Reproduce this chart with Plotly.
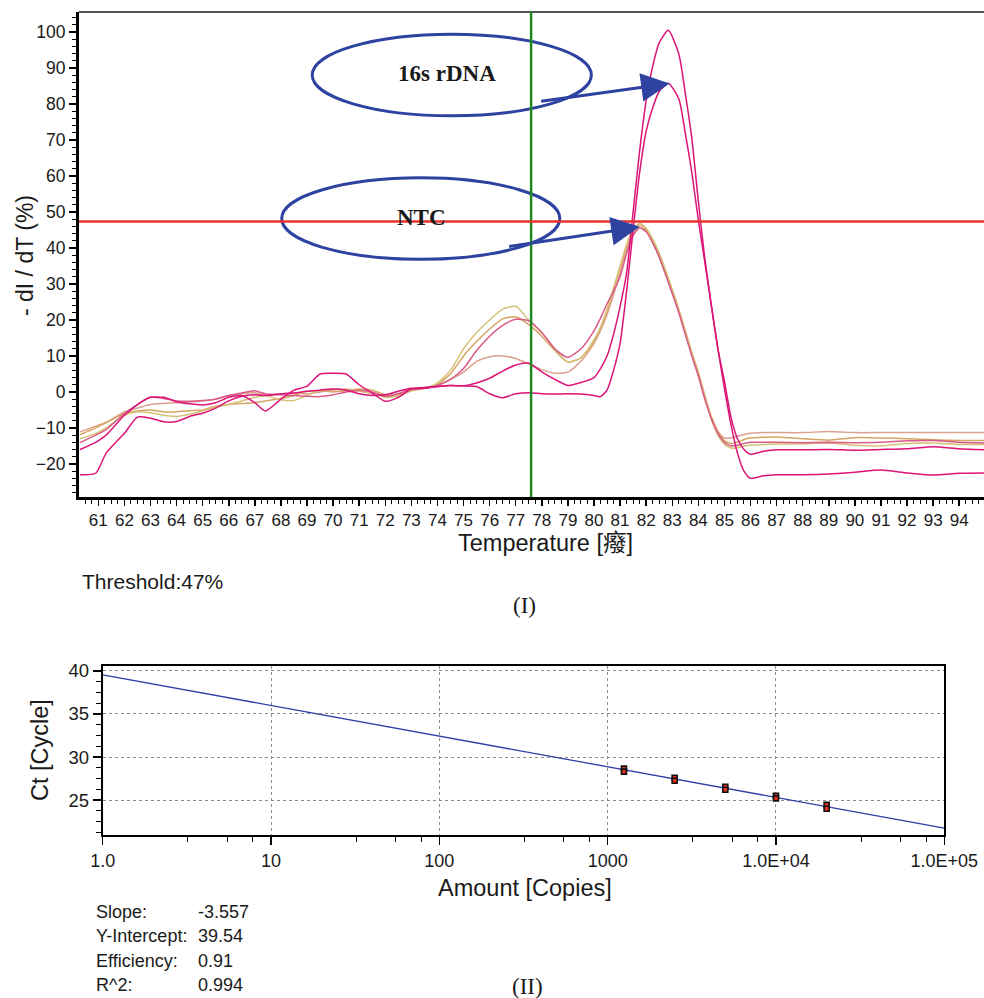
import plotly.graph_objects as go

W, H = 984, 998


def px(x):
    return x / W


def py(y):
    return 1 - y / H


# ---------------- Panel (I): melt curves ----------------
TEMPS = [60.3, 60.9, 61.3, 62.0, 62.5, 63.0, 63.5, 64.0, 64.5, 65.0, 65.5, 66.0, 66.5, 67.0, 67.4,
         68.0, 68.5, 69.0, 69.5, 70.0, 70.5, 71.0, 71.5, 72.0, 72.5, 73.0, 73.5, 74.0, 74.5, 75.0, 75.5, 76.0, 76.5, 77.0, 77.5, 78.0, 78.5, 79.0, 79.5,
         80.0, 80.25, 80.5, 80.75, 81.0, 81.25, 81.5, 81.75, 82.0, 82.25, 82.5, 82.85, 83.25, 83.5, 83.75, 84.0, 84.25, 84.5, 84.75, 85.0, 85.25, 85.5, 85.75, 86.0,
         86.5, 87.0, 88.0, 89.0, 90.0, 91.0, 92.0, 93.0, 94.0, 95.0]

RDNA_A = [-23, -22.6, -17, -11.5, -7.0, -7.3, -8.3, -8.2, -6.8, -5.9, -4.5, -2.5, -1.2, -0.8, -1.0,
          -0.5, -0.3, 0.2, 0.5, 0.8, 0.5, -0.5, -1.0, -0.8, 0.2, 1.0, 1.2, 1.5, 1.8, 1.7, 2.5, 3.8, 5.8, 7.5, 8.0, 5.6, 3.5, 1.8, 2.6,
          4.0, 6.5, 10.0, 16.0, 23.7, 33.0, 50.0, 67.0, 81.0, 90.5, 97.0, 100.5, 94.0, 83.0, 70.5, 53.0, 37.0, 24.0, 12.0, 1.0, -9.0, -17.0, -22.0, -24.0,
          -23.3, -23.0, -23.0, -22.8, -22.3, -21.7, -22.5, -23.1, -22.6, -22.5]

RDNA_B = [-16, -14.0, -12.0, -6.5, -3.5, -1.5, -1.5, -2.7, -3.3, -3.6, -3.0, -1.5, -1.0, -3.0, -5.3,
          -2.0, 0.5, 1.6, 5.0, 5.2, 5.0, 2.0, -0.3, -2.6, -1.5, 0.8, 1.0, 1.5, 1.8, 1.7, 1.5, -0.5, -1.6, -0.5, -0.2, -0.5, -0.6, -0.5, -0.6,
          -1.0, -1.3, 0.5, 6.0, 13.5, 28.0, 45.0, 61.0, 72.5, 79.0, 83.5, 85.8, 81.5, 72.0, 61.0, 47.8, 36.0, 24.0, 12.0, 3.0, -7.0, -13.0, -16.0, -17.3,
          -16.5, -16.1, -16.1, -16.0, -16.2, -16.0, -15.8, -15.2, -15.8, -16.1]

NTC_YELLOW = [-13.0, -11.5, -10.0, -6.5, -5.5, -5.8, -6.5, -6.8, -6.2, -5.3, -4.2, -3.5, -2.5, -1.5, -1.0,
              -2.2, -2.4, -1.0, 0.5, 0.8, 0.5, 0.2, -0.3, -1.5, -1.0, 0.5, 1.0, 2.5, 6.0, 12.0, 16.5, 20.0, 23.0, 23.8, 20.0, 16.5, 12.0, 8.3, 9.5,
              14.5, 18.0, 23.0, 29.0, 35.0, 41.0, 45.3, 46.8, 45.5, 42.5, 38.5, 31.5, 22.5, 16.5, 10.5, 5.0, -1.5, -7.5, -12.0, -14.5, -15.6, -15.5, -15.0, -14.8,
              -14.6, -14.5, -14.4, -14.2, -14.8, -15.0, -14.3, -14.2, -14.6, -14.6]

NTC_TAN = [-11.9, -10.0, -8.5, -6.0, -5.3, -5.0, -5.5, -5.5, -5.2, -5.0, -4.0, -3.5, -3.2, -3.0, -2.5,
           -1.8, -1.0, 0.2, 0.3, 0.0, 0.3, 0.8, 0.5, -0.8, -1.2, 0.3, 1.0, 2.2, 5.0, 10.0, 14.0, 17.5, 20.3, 20.9, 18.7, 15.5, 11.5, 8.3, 9.5,
           14.0, 17.5, 22.5, 28.5, 34.5, 40.5, 45.0, 46.5, 45.2, 42.3, 38.5, 31.5, 23.0, 17.0, 11.0, 5.5, -1.0, -7.0, -11.0, -13.5, -14.3, -14.0, -13.2, -12.8,
           -12.6, -12.5, -13.0, -13.4, -12.7, -12.8, -13.0, -13.3, -13.5, -13.5]

NTC_ROSE = [-14.1, -12.0, -10.5, -6.0, -3.5, -1.5, -1.8, -2.5, -2.6, -2.4, -2.0, -1.0, -0.3, 0.3, -0.5,
            -0.8, -1.0, -1.2, -1.3, -0.8, 0.0, 0.5, 0.0, -1.2, -0.5, 0.8, 1.0, 1.8, 3.5, 6.5, 11.5, 15.5, 18.5, 20.2, 19.8, 16.5, 12.0, 9.6, 12.0,
            17.0, 20.5, 24.5, 28.0, 32.0, 38.5, 43.5, 45.6, 44.5, 41.5, 37.5, 30.5, 22.0, 16.0, 10.0, 4.5, -2.0, -7.5, -11.5, -14.0, -15.0, -14.8, -14.3, -14.0,
            -14.0, -14.0, -14.1, -14.0, -14.1, -14.0, -13.6, -13.5, -14.0, -14.2]

NTC_SALMON = [-11.1, -9.5, -8.5, -5.5, -4.5, -3.5, -3.2, -3.0, -2.8, -2.5, -2.0, -1.0, -0.5, -0.2, -1.0,
              -0.5, -0.2, -0.5, 0.0, 0.5, 0.8, 0.3, -0.5, -1.0, -0.5, 0.5, 1.2, 2.0, 3.5, 5.5, 8.5, 9.8, 10.0, 9.3, 7.8, 6.2, 5.2, 5.5, 8.5,
              13.5, 17.0, 21.5, 27.0, 33.0, 39.5, 44.0, 45.8, 44.8, 41.5, 37.5, 30.5, 22.5, 16.5, 10.5, 4.5, -2.0, -7.0, -11.0, -12.8, -12.8, -12.3, -11.8, -11.5,
              -11.3, -11.3, -11.3, -11.0, -11.3, -11.3, -11.3, -11.3, -11.3, -11.3]

THRESHOLD = 47.4
MARKER_TEMP = 77.59

# ---------------- Panel (II): standard curve ----------------
AMOUNTS = [1250, 2500, 5000, 10000, 20000]
CT_REP1 = [28.65, 27.6, 26.55, 25.5, 24.45]
CT_REP2 = [28.3, 27.25, 26.2, 25.2, 24.0]
SLOPE = -3.557
INTERCEPT = 39.54
EFFICIENCY = 0.91
R2 = 0.994
STD_X_TICKS = [1, 10, 100, 1000, 10000, 100000]
STD_X_TEXT = ["1.0", "10", "100", "1000", "1.0E+04", "1.0E+05"]

for s in (RDNA_A, RDNA_B, NTC_YELLOW, NTC_TAN, NTC_ROSE, NTC_SALMON):
    assert len(s) == len(TEMPS), len(s)

fig = go.Figure()

curve_styles = [
    (NTC_SALMON, "#DCA08C"),
    (NTC_TAN, "#D6A463"),
    (NTC_YELLOW, "#D5C277"),
    (NTC_ROSE, "#DA5A86"),
    (RDNA_B, "#DC1478"),
    (RDNA_A, "#DC1478"),
]
for vals, col in curve_styles:
    fig.add_trace(go.Scatter(x=TEMPS, y=vals, mode="lines", line=dict(color=col, width=1.5, shape="spline", smoothing=0.6),
                             xaxis="x", yaxis="y", hoverinfo="skip", showlegend=False))

# standard curve
fig.add_trace(go.Scatter(x=[STD_X_TICKS[0], STD_X_TICKS[-1]],
                         y=[INTERCEPT, INTERCEPT + SLOPE * 5],
                         mode="lines", line=dict(color="#2B3FA8", width=1.3),
                         xaxis="x2", yaxis="y2", showlegend=False))
fig.add_trace(go.Scatter(x=AMOUNTS + AMOUNTS, y=CT_REP1 + CT_REP2, mode="markers",
                         marker=dict(symbol="square", size=5, color="#E8301C", line=dict(color="#111", width=1.6)),
                         xaxis="x2", yaxis="y2", showlegend=False))

FONT = "Liberation Sans, Arial, Helvetica, sans-serif"
SERIF = "Liberation Serif, Times New Roman, serif"
TXT = "#1a1a1a"

shapes = [
    # top frame line
    dict(type="line", xref="paper", yref="paper", x0=px(79), x1=1, y0=py(12), y1=py(12),
         line=dict(color="#555", width=2)),
    # ellipses
    dict(type="circle", xref="x", yref="y", x0=69.20, x1=79.90, y0=76.75, y1=99.44,
         line=dict(color="#2E42A0", width=3)),
    dict(type="circle", xref="x", yref="y", x0=68.03, x1=78.69, y0=36.86, y1=59.53,
         line=dict(color="#2E42A0", width=3)),
    # threshold and marker lines
    dict(type="line", xref="x", yref="y domain", x0=MARKER_TEMP, x1=MARKER_TEMP, y0=0, y1=1,
         line=dict(color="#1E8A22", width=2.5)),
    dict(type="line", xref="x domain", yref="y", x0=0, x1=1, y0=THRESHOLD, y1=THRESHOLD,
         line=dict(color="#E8312A", width=2.5)),
]


def label(x, y, text, size, family=FONT, angle=0, xanchor="center"):
    return dict(x=px(x), y=py(y), xref="paper", yref="paper", text=text, textangle=angle,
                xanchor=xanchor, yanchor="middle", showarrow=False,
                font=dict(family=family, size=size, color=TXT))


ann = []
# arrows
ann.append(dict(x=82.9, y=85.75, xref="x", yref="y", ax=-130, ay=18, showarrow=True, text="",
                arrowhead=2, arrowsize=1.9, arrowwidth=3, arrowcolor="#2E42A0"))
ann.append(dict(x=81.75, y=45.9, xref="x", yref="y", ax=-132, ay=20, showarrow=True, text="",
                arrowhead=2, arrowsize=1.9, arrowwidth=3, arrowcolor="#2E42A0"))
# ellipse labels
ann.append(dict(x=74.36, y=88.6, xref="x", yref="y", text="<b>16s rDNA</b>", showarrow=False,
                xanchor="center", yanchor="middle", font=dict(family=SERIF, size=23, color=TXT)))
ann.append(dict(x=73.4, y=48.6, xref="x", yref="y", text="<b>NTC</b>", showarrow=False,
                xanchor="center", yanchor="middle", font=dict(family=SERIF, size=23, color=TXT)))
# axis titles and captions
ann.append(label(25, 256, "- dI / dT (%)", 23, angle=-90))
ann.append(label(545, 543, "Temperature [癈]", 23.5, family="Liberation Sans, Noto Sans CJK TC, sans-serif"))
ann.append(label(80, 581, "Threshold:47%", 21, xanchor="left"))
ann.append(label(524, 605, "(I)", 23, family=SERIF))
ann.append(label(40, 750, "Ct [Cycle]", 23.5, angle=-90))
ann.append(label(525, 888, "Amount [Copies]", 23.5))
ann.append(label(527, 986, "(II)", 23, family=SERIF))
stats = [("Slope:", f"{SLOPE:.3f}"), ("Y-Intercept:", f"{INTERCEPT:.2f}"),
         ("Efficiency:", f"{EFFICIENCY:.2f}"), ("R^2:", f"{R2:.3f}")]
for i, (lab, val) in enumerate(stats):
    yy = 912 + 24.3 * i
    ann.append(label(94, yy, lab, 18, xanchor="left"))
    ann.append(label(196, yy, val, 18, xanchor="left"))

minor_log = []
for k in range(5):
    for m in (3.2, 5.5, 7.8):
        minor_log.append(m * 10 ** k)

fig.update_layout(
    width=W, height=H,
    margin=dict(l=0, r=0, t=0, b=0, pad=0, autoexpand=False),
    paper_bgcolor="white", plot_bgcolor="white",
    font=dict(family=FONT, color=TXT, size=17),
    showlegend=False,
    hovermode=False,
    shapes=shapes,
    annotations=ann,
    xaxis=dict(domain=[px(79), 1], anchor="y", range=[60.26, 94.95], automargin=False,
               tickmode="linear", tick0=61, dtick=1, ticks="outside", ticklen=6, tickwidth=1.5, tickcolor="black",
               showline=True, linewidth=3, linecolor="black", showgrid=False, zeroline=False,
               tickfont=dict(size=17, color=TXT),
               minor=dict(dtick=0.25, tick0=61, ticks="outside", ticklen=4, tickwidth=1, tickcolor="black", showgrid=False)),
    yaxis=dict(domain=[py(497), py(12)], anchor="x", range=[-29.2, 105.6], automargin=False,
               tickmode="linear", tick0=0, dtick=10, ticks="outside", ticklen=7, tickwidth=1.5, tickcolor="black",
               showline=True, linewidth=3, linecolor="black", showgrid=False, zeroline=False,
               tickfont=dict(size=17.5, color=TXT),
               minor=dict(dtick=2, tick0=0, ticks="outside", ticklen=4, tickwidth=1, tickcolor="black", showgrid=False)),
    xaxis2=dict(domain=[px(102.7), px(944.3)], anchor="y2", type="log", range=[0, 5], automargin=False,
                tickmode="array", tickvals=STD_X_TICKS, ticktext=STD_X_TEXT,
                ticks="outside", ticklen=8, tickwidth=1.5, tickcolor="black",
                showline=True, mirror=True, linewidth=2, linecolor="black",
                showgrid=True, gridcolor="#8c8c8c", griddash="dot", gridwidth=1, zeroline=False,
                tickfont=dict(size=18, color=TXT),
                minor=dict(tickmode="array", tickvals=minor_log, ticks="outside", ticklen=5, tickwidth=1,
                           tickcolor="black", showgrid=False)),
    yaxis2=dict(domain=[py(835), py(665.7)], anchor="x2", range=[20.95, 40.6], automargin=False,
                tickmode="array", tickvals=[25, 30, 35, 40],
                ticks="outside", ticklen=8, tickwidth=1.5, tickcolor="black",
                showline=True, mirror=True, linewidth=2, linecolor="black",
                showgrid=True, gridcolor="#8c8c8c", griddash="dot", gridwidth=1, zeroline=False,
                tickfont=dict(size=18.5, color=TXT),
                minor=dict(tick0=25, dtick=1.25, ticks="outside", ticklen=5, tickwidth=1,
                           tickcolor="black", showgrid=False)),
)

# remove the default 8 px page margin so the figure fills the 984x998 window exactly
fig.write_html("out.html",
               config={"displayModeBar": False, "staticPlot": True},
               post_script="document.body.style.margin='0';document.body.style.overflow='hidden';"
                           "document.documentElement.style.overflow='hidden';")
